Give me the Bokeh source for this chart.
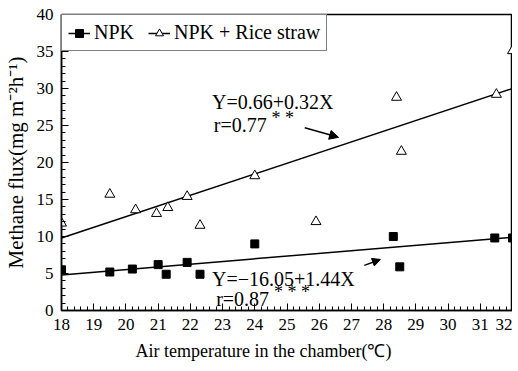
from bokeh.plotting import figure
from bokeh.models import (Legend, LegendItem, Label, Arrow, NormalHead, FixedTicker, Range1d, Title)
from bokeh.embed import file_html
from bokeh.resources import INLINE

# ---- data ----
npk_x = [18.0, 19.5, 20.2, 21.0, 21.25, 21.9, 22.3, 24.0, 28.3, 28.5, 31.45, 32.0]
npk_y = [5.5, 5.2, 5.6, 6.2, 4.9, 6.5, 4.9, 9.0, 10.0, 5.9, 9.8, 9.8]
straw_x = [18.0, 19.5, 20.3, 20.95, 21.3, 21.9, 22.3, 24.0, 25.9, 28.55, 28.4, 31.5, 32.0]
straw_y = [11.8, 15.7, 13.6, 13.1, 13.9, 15.4, 11.5, 18.2, 12.0, 21.5, 28.8, 29.2, 35.1]
fit_x = [18.0, 32.0]
npk_fit = [4.8, 9.9]
straw_fit = [9.8, 30.0]
x_ticks = list(range(18, 33))
y_ticks = [0, 5, 10, 15, 20, 25, 30, 35, 40]

SERIF = "Liberation Serif"

p = figure(width=512, height=372, output_backend="svg", toolbar_location=None,
           x_range=Range1d(18, 32), y_range=Range1d(0, 40),
           min_border_left=61, min_border_right=0, min_border_top=14, min_border_bottom=62)
p.background_fill_color = "white"
p.border_fill_color = "white"
p.outline_line_color = "black"
p.outline_line_width = 1.5
p.xgrid.visible = False
p.ygrid.visible = False

for ax in (p.xaxis[0], p.yaxis[0]):
    ax.axis_line_color = "black"
    ax.axis_line_width = 1.5
    ax.major_tick_in = 7
    ax.major_tick_out = 0
    ax.minor_tick_in = 4
    ax.minor_tick_out = 0
    ax.major_tick_line_color = "black"
    ax.minor_tick_line_color = "black"
    ax.major_label_text_font = SERIF
    ax.major_label_text_font_size = "17px"
    ax.major_label_text_color = "black"
    ax.axis_label_text_font = SERIF
    ax.axis_label_text_font_size = "21px"
    ax.axis_label_text_font_style = "normal"
    ax.axis_label_text_color = "black"
    ax.major_label_standoff = 8

p.xaxis.ticker = FixedTicker(ticks=x_ticks,
                             minor_ticks=[18 + i * 0.2 for i in range(71)])
p.yaxis.ticker = FixedTicker(ticks=y_ticks, minor_ticks=list(range(0, 41)))
p.yaxis.axis_label = "Methane flux(mg m⁻²h⁻¹)"
p.yaxis.axis_label_standoff = 6

p.add_layout(Title(text="Air temperature in the chamber(℃)", align="left", offset=74,
                   text_font=SERIF, text_font_size="18px", text_font_style="normal",
                   text_color="black", standoff=12), "below")

l1 = p.line(fit_x, npk_fit, line_color="black", line_width=1.5)
l2 = p.line(fit_x, straw_fit, line_color="black", line_width=1.5)
s1 = p.scatter(npk_x, npk_y, marker="square", size=8, fill_color="black", line_color="black")
s2 = p.scatter(straw_x, straw_y, marker="triangle", size=10, fill_color="white",
               line_color="black", line_width=1)

legend = Legend(items=[LegendItem(label="NPK", renderers=[l1, s1]),
                       LegendItem(label="NPK + Rice straw", renderers=[l2, s2])],
                location="top_left", orientation="horizontal",
                label_text_font=SERIF, label_text_font_size="20px",
                label_text_color="black", border_line_color="black",
                border_line_width=1.5, margin=0, padding=6, spacing=14,
                glyph_width=22, label_standoff=4, background_fill_alpha=1)
p.add_layout(legend)

def txt(x, y, t, size="20px"):
    p.add_layout(Label(x=x, y=y, text=t, text_font=SERIF, text_font_size=size,
                       text_color="black", text_baseline="middle"))

txt(22.67, 28.2, "Y=0.66+0.32X")
txt(22.73, 25.1, "r=0.77")
txt(24.52, 26.0, "* *", "18px")
txt(22.67, 4.2, "Y=−16.05+1.44X")
txt(22.8, 1.5, "r=0.87")
txt(24.6, 2.5, "* * *", "18px")

p.add_layout(Arrow(x_start=25.55, y_start=24.7, x_end=26.6, y_end=23.4,
                   line_color="black", line_width=1.5,
                   end=NormalHead(size=9, fill_color="black", line_color="black")))
p.add_layout(Arrow(x_start=27.4, y_start=6.1, x_end=27.9, y_end=6.9,
                   line_color="black", line_width=1.5,
                   end=NormalHead(size=8, fill_color="black", line_color="black")))

open("out.html", "w").write(file_html(p, INLINE))
